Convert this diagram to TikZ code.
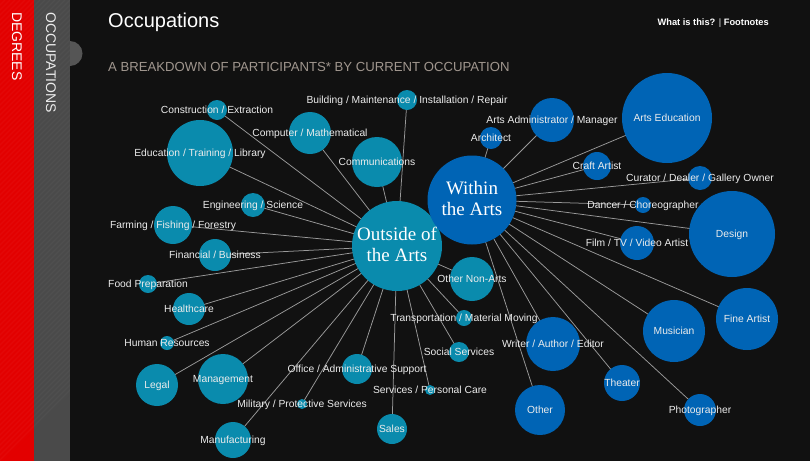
\documentclass[tikz,border=0pt]{standalone}
\usepackage{fontspec}
\setmainfont{Liberation Sans}
\newfontfamily\serifbig{Liberation Serif}
\pgfdeclarelayer{back}\pgfdeclarelayer{bg}\pgfdeclarelayer{fg}\pgfsetlayers{back,bg,main,fg}
\definecolor{bgc}{HTML}{111111}
\definecolor{redc}{HTML}{E30000}
\definecolor{grayc}{HTML}{4A4A4A}
\definecolor{tabc}{HTML}{555555}
\definecolor{tealc}{HTML}{0A8BAD}
\definecolor{bluec}{HTML}{0064B5}
\definecolor{linkc}{HTML}{9A9A9A}
\definecolor{lblc}{HTML}{ECECEC}
\definecolor{subc}{HTML}{A0968E}
\tikzset{
 obub/.style={circle,inner sep=0pt,fill=tealc},
 wbub/.style={circle,inner sep=0pt,fill=bluec},
 link/.style={draw=linkc,line width=0.75pt},
 lbl/.style={text=lblc,font=\fontsize{10.3}{12}\selectfont,inner sep=0pt,anchor=base},
 hub/.style={text=white,font=\serifbig\fontsize{19}{22}\selectfont,inner sep=0pt,anchor=base}
}
\newcommand\bub[7]{%
 \node[#5, minimum size=#4*2pt] (#1) at (#2,#3) {};
 \begin{pgfonlayer}{bg}\draw[link] (#1.center) -- (#6.center);\end{pgfonlayer}
 \begin{pgfonlayer}{fg}\node[lbl] at ([yshift=-3.6pt]#1.center) {#7};\end{pgfonlayer}}
\begin{document}
\begin{tikzpicture}[x=1pt,y=-1pt]
\useasboundingbox (0,0) rectangle (810,461);
\begin{pgfonlayer}{back}
\fill[bgc] (0,0) rectangle (810,461);
% sidebar
\fill[redc] (0,0) rectangle (34,461);
\fill[grayc] (34,0) rectangle (70,461);
\begin{scope}
\clip (0,0) rectangle (70,461);
\foreach \k in {0,5,...,540}{\draw[white,opacity=0.03,line width=1.2pt] (\k-80,0) -- (\k-80-461,461);}
\end{scope}
\fill[tabc] (70,66) arc[start angle=90,end angle=-90,radius=12.5] -- cycle;
\end{pgfonlayer}
\node[text=white,font=\fontsize{14}{16}\selectfont,rotate=-90,anchor=west,inner sep=0pt] (deg) at (17,12) {DEGREES};
\node[text=lblc,font=\fontsize{14}{16}\selectfont,rotate=-90,anchor=west,inner sep=0pt] (occ) at (51,12) {OCCUPATIONS};
% headings
\node[text=white,font=\fontsize{20}{24}\selectfont,anchor=base west,inner sep=0pt] (title) at (108,27) {Occupations};
\node[text=white,font=\bfseries\fontsize{9.3}{11}\selectfont,anchor=base east,inner sep=0pt] (links) at (769,25) {What is this? {\color{lblc}\fontseries{m}\selectfont|} Footnotes};
\node[text=subc,font=\fontsize{13.15}{15}\selectfont,anchor=base west,inner sep=0pt] (sub) at (108,71) {A BREAKDOWN OF PARTICIPANTS* BY CURRENT OCCUPATION};
% hubs
\node[obub,minimum size=90pt] (out) at (397,246) {};
\node[wbub,minimum size=89pt] (win) at (472,200) {};
\begin{pgfonlayer}{fg}
\node[hub] (outa) at ([yshift=6pt]out.center) {Outside of};
\node[hub] (outb) at ([yshift=-15pt]out.center) {the Arts};
\node[hub] (wina) at ([yshift=6pt]win.center) {Within};
\node[hub] (winb) at ([yshift=-15pt]win.center) {the Arts};
\end{pgfonlayer}
% outside children
\bub{cons}{217}{110}{10}{obub}{out}{Construction / Extraction}
\bub{edu}{200}{153}{33}{obub}{out}{Education / Training / Library}
\bub{comp}{310}{133}{21}{obub}{out}{Computer / Mathematical}
\bub{bldg}{407}{100}{10}{obub}{out}{Building / Maintenance / Installation / Repair}
\bub{comm}{377}{162}{25}{obub}{out}{Communications}
\bub{eng}{253}{205}{12}{obub}{out}{Engineering / Science}
\bub{farm}{173}{225}{19}{obub}{out}{Farming / Fishing / Forestry}
\bub{fin}{215}{255}{16}{obub}{out}{Financial / Business}
\bub{food}{148}{284}{9}{obub}{out}{Food Preparation}
\bub{health}{189}{309}{16}{obub}{out}{Healthcare}
\bub{hr}{167}{343}{7}{obub}{out}{Human Resources}
\bub{legal}{157}{385}{21}{obub}{out}{Legal}
\bub{mgmt}{223}{379}{25}{obub}{out}{Management}
\bub{manu}{233}{440}{18}{obub}{out}{Manufacturing}
\bub{mil}{302}{404}{5}{obub}{out}{Military / Protective Services}
\bub{office}{357}{369}{15}{obub}{out}{Office / Administrative Support}
\bub{sales}{392}{429}{15}{obub}{out}{Sales}
\bub{pers}{430}{390}{5}{obub}{out}{Services / Personal Care}
\bub{social}{459}{352}{10}{obub}{out}{Social Services}
\bub{trans}{464}{318}{8}{obub}{out}{Transportation / Material Moving}
\bub{onon}{472}{279}{22}{obub}{out}{Other Non-Arts}
% within children
\bub{arch}{491}{138}{11}{wbub}{win}{Architect}
\bub{admin}{552}{120}{22}{wbub}{win}{Arts Administrator / Manager}
\bub{artsed}{667}{118}{45}{wbub}{win}{Arts Education}
\bub{craft}{597}{166}{14}{wbub}{win}{Craft Artist}
\bub{cur}{700}{178}{12}{wbub}{win}{Curator / Dealer / Gallery Owner}
\bub{dance}{643}{205}{8}{wbub}{win}{Dancer / Choreographer}
\bub{design}{732}{234}{43}{wbub}{win}{Design}
\bub{film}{637}{243}{17}{wbub}{win}{Film / TV / Video Artist}
\bub{fine}{747}{319}{31}{wbub}{win}{Fine Artist}
\bub{music}{674}{331}{31}{wbub}{win}{Musician}
\bub{theat}{622}{383}{18}{wbub}{win}{Theater}
\bub{photo}{700}{410}{16}{wbub}{win}{Photographer}
\bub{writer}{553}{344}{27}{wbub}{win}{Writer / Author / Editor}
\bub{other}{540}{410}{25}{wbub}{win}{Other}
\end{tikzpicture}
\end{document}
